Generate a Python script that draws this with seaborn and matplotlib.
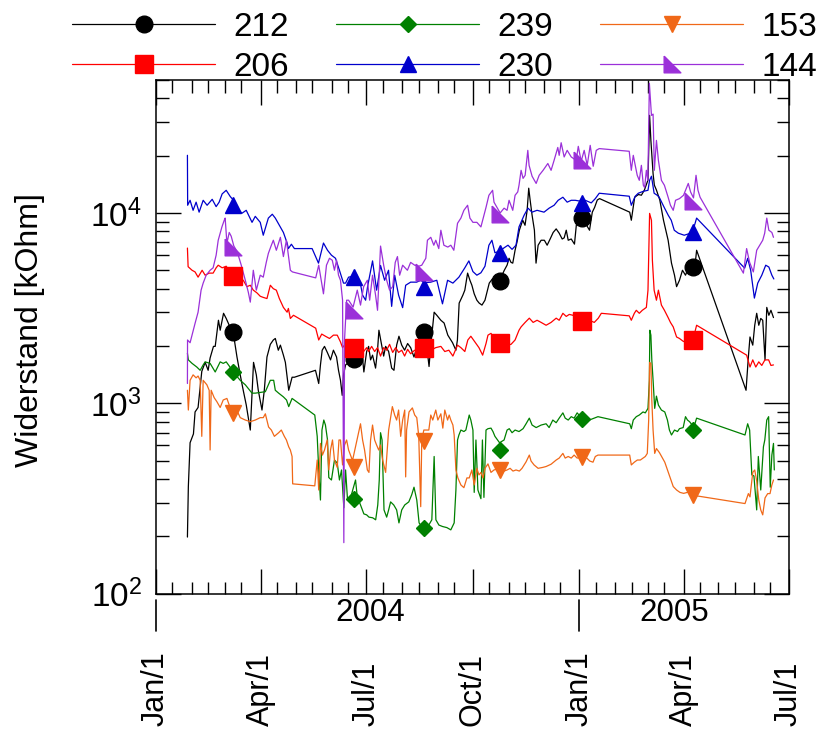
import numpy as np
import pandas as pd
import matplotlib
matplotlib.use("Agg")
import matplotlib.pyplot as plt
import matplotlib.dates as mdates
import matplotlib.transforms as mtransforms
from matplotlib.lines import Line2D
from matplotlib.ticker import LogLocator, NullFormatter
import seaborn as sns

# Resistance readings (kOhm) per sensor: (days since 2004-01-01, value)
S212 = [(27.4, 198), (28.2, 365), (29.7, 620), (32.6, 690), (34.0, 900), (36.6, 950), (39.8, 1470), (42.7, 1640),
        (45.3, 1490), (47.0, 1730), (49.9, 1990), (51.4, 1990), (54.2, 2730), (55.7, 2420), (58.6, 2970), (60.9, 2790),
        (63.5, 2570), (66.5, 2450), (70.2, 1750), (73.0, 1410), (75.6, 1170), (78.2, 980), (81.7, 723), (84.5, 1640),
        (86.9, 1410), (88.6, 1170), (91.8, 921), (93.8, 1170), (96.1, 1750), (99.0, 2040), (101.6, 2150), (103.3, 2190),
        (105.9, 1900), (107.7, 2020), (110.3, 1790), (112.0, 1640), (114.9, 1170), (117.8, 1370), (119.8, 1370),
        (138.0, 1490), (140.8, 1270), (142.3, 1590), (143.8, 1900), (145.8, 1990), (148.4, 1840), (151.0, 1690),
        (153.5, 1900), (156.2, 1750), (157.9, 1490), (159.6, 1320), (161.1, 1100), (162.2, 1410), (164.0, 1590),
        (166.6, 1640), (170.0, 1700), (173.5, 1900), (175.3, 1790), (177.8, 1960), (179.8, 1460), (182.2, 1870),
        (183.9, 1990), (185.6, 1690), (187.3, 1790), (189.9, 1530), (191.6, 1900), (192.8, 2420), (195.2, 2020),
        (196.9, 1770), (198.6, 1990), (201.2, 1870), (203.8, 1530), (205.8, 1490), (208.1, 2020), (210.1, 2250),
        (212.5, 2020), (215.0, 1900), (217.6, 2060), (220.2, 1960), (223.1, 1750), (225.5, 1960), (228.1, 2250),
        (231.5, 2400), (234.1, 1990), (236.1, 1560), (237.6, 2020), (240.5, 3010), (242.8, 2900), (246.3, 2730),
        (249.1, 2640), (252.3, 2280), (254.9, 2150), (256.4, 2080), (259.3, 1900), (260.6, 2150), (262.1, 3360),
        (265.3, 3700), (267.0, 3930), (269.4, 4830), (271.4, 4430), (273.1, 4170), (275.1, 3760), (277.4, 3480),
        (279.4, 3360), (281.8, 3280), (284.4, 3480), (286.1, 3830), (288.1, 4280), (291.0, 4520), (293.0, 4170),
        (297.0, 4400), (301.1, 5000), (303.5, 5320), (305.2, 5780), (306.9, 5500), (308.4, 5450), (310.4, 6370),
        (312.1, 7050), (314.1, 8120), (317.0, 9160), (319.0, 8620), (320.8, 10300), (322.2, 13500), (323.4, 11700),
        (325.1, 9730), (327.1, 8120), (328.5, 5450), (330.3, 6770), (332.9, 7190), (335.7, 7190), (338.1, 6770),
        (340.7, 7300), (343.3, 7900), (345.9, 8250), (348.5, 7830), (351.1, 7300), (352.8, 7400), (354.6, 8120),
        (356.3, 7190), (358.9, 7300), (361.7, 6860), (363.3, 8620), (365.0, 9400), (368.0, 9500), (374.7, 8120),
        (377.1, 10100), (379.1, 10700), (381.4, 11700), (383.4, 11900), (409.4, 10100), (410.8, 9160),
        (413.7, 12100), (416.9, 12500), (419.5, 12400), (422.1, 13200), (425.2, 14900), (426.6, 32600),
        (427.7, 24100), (429.6, 16100), (430.7, 14000), (432.5, 13200), (435.4, 11700), (438.6, 9160),
        (442.6, 7190), (445.5, 5450), (448.1, 4710), (449.9, 4100), (452.4, 4430), (455.0, 5000), (457.6, 4710),
        (460.2, 5150), (464.0, 5250), (465.4, 5000), (467.2, 6370), (509.9, 1170), (511.9, 1750), (513.3, 2230),
        (515.7, 2020), (517.4, 2570), (519.1, 2970), (520.9, 2570), (522.6, 2790), (524.3, 2730), (526.3, 1690),
        (527.8, 3190), (529.6, 2900), (531.4, 3080), (533.6, 2820)]

S206 = [(27.4, 6540), (28.0, 5220), (31.4, 5000), (34.0, 4900), (36.6, 4600), (40.1, 5000), (42.7, 4710), (46.2, 4830),
        (49.6, 4830), (52.2, 5150), (54.0, 5315), (57.4, 5150), (60.9, 5250), (64.0, 4900), (67.0, 4650), (73.0, 4520),
        (75.6, 4430), (78.8, 4100), (81.7, 4170), (84.3, 3930), (87.5, 3800), (90.3, 3650), (92.9, 3600), (96.1, 3550),
        (99.0, 4170), (101.6, 4000), (104.2, 3930), (106.8, 3550), (110.3, 3190), (113.5, 3010), (114.6, 3150),
        (116.3, 2790), (119.0, 2900), (138.2, 2480), (140.8, 2150), (143.4, 2310), (146.6, 2250), (150.1, 2190),
        (153.5, 2280), (156.8, 2280), (159.6, 2100), (161.4, 1960), (164.0, 2060), (166.6, 1900), (171.0, 1950),
        (173.5, 2020), (176.9, 1900), (179.6, 1870), (182.2, 1960), (183.9, 1870), (186.5, 1990), (189.1, 1870),
        (191.6, 1960), (194.2, 1770), (196.9, 1960), (199.5, 1900), (202.0, 2040), (204.7, 1850), (207.3, 1960),
        (209.8, 1850), (212.5, 1900), (215.0, 1770), (217.6, 1920), (220.2, 1820), (223.7, 1900), (227.2, 1870),
        (232.0, 1940), (237.6, 1900), (241.9, 1960), (246.3, 1990), (249.7, 1870), (253.2, 1900), (256.7, 1770),
        (260.7, 2020), (263.6, 1960), (267.0, 1870), (269.6, 2150), (272.2, 2250), (275.7, 2100), (279.2, 1960),
        (282.4, 1790), (285.3, 2060), (287.0, 2280), (289.6, 2330), (292.2, 2190), (297.0, 2070), (303.5, 2020),
        (306.9, 2040), (310.4, 2150), (313.8, 2420), (315.6, 2520), (319.1, 2660), (322.7, 2800), (326.0, 2660),
        (329.4, 2730), (332.9, 2660), (337.2, 2570), (341.5, 2660), (345.9, 2800), (348.5, 2730), (351.7, 2970),
        (354.6, 2860), (357.2, 2930), (360.4, 2900), (363.3, 2800), (368.0, 2700), (374.5, 2730), (378.8, 2660),
        (382.3, 2800), (384.9, 2970), (409.0, 2880), (410.8, 2730), (413.4, 2970), (415.1, 3080), (417.7, 2970),
        (420.3, 3080), (423.8, 3190), (425.2, 3930), (426.6, 9950), (428.2, 9155), (429.0, 5645), (430.5, 3930),
        (432.5, 3480), (434.2, 3930), (436.8, 3280), (439.4, 3080), (442.6, 2820), (444.6, 2660), (447.0, 2520),
        (449.9, 2230), (452.4, 2190), (455.9, 2110), (459.3, 2150), (464.0, 2150), (467.2, 2570), (510.4, 1790),
        (513.3, 1550), (515.7, 1690), (518.3, 1550), (520.9, 1650), (523.5, 1580), (526.2, 1690), (529.4, 1690),
        (531.4, 1580), (533.6, 1590)]

S239 = [(27.4, 1830), (28.2, 1690), (31.4, 1620), (35.5, 1550), (38.4, 1490), (41.0, 1590), (42.7, 1650), (47.0, 1620),
        (51.4, 1460), (54.0, 1570), (55.7, 1650), (58.3, 1620), (60.9, 1650), (63.5, 1570), (67.0, 1460), (73.0, 1320),
        (77.4, 1250), (83.2, 1130), (86.0, 1130), (90.3, 1140), (94.7, 1150), (97.3, 1250), (99.0, 1320), (101.9, 1320),
        (103.3, 1170), (106.2, 1130), (110.3, 1080), (113.0, 1040), (114.9, 960), (117.8, 1060), (137.4, 867),
        (139.5, 670), (140.8, 446), (142.3, 310), (143.6, 723), (145.2, 816), (146.6, 768), (148.4, 641), (149.5, 407),
        (151.8, 395), (154.4, 503), (156.8, 485), (158.7, 395), (160.5, 446), (162.5, 282), (164.0, 446), (165.7, 310),
        (169.0, 330), (172.6, 395), (174.1, 322), (176.9, 292), (179.8, 262), (182.2, 259), (184.2, 252), (187.4, 250),
        (190.0, 244), (191.8, 292), (193.1, 395), (194.2, 700), (195.5, 641), (197.2, 275), (199.5, 252), (201.2, 275),
        (202.9, 303), (205.6, 292), (208.1, 275), (210.1, 235), (212.5, 275), (215.1, 292), (218.6, 303), (221.1, 330),
        (223.1, 362), (225.5, 310), (227.5, 235), (229.8, 225), (232.0, 222), (235.9, 229), (238.5, 244), (240.5, 525),
        (242.0, 244), (244.6, 229), (247.7, 225), (251.5, 222), (254.9, 216), (257.8, 235), (259.3, 350), (260.7, 641),
        (261.9, 681), (263.6, 723), (266.2, 710), (267.9, 723), (270.8, 867), (272.2, 816), (274.0, 723), (275.1, 340),
        (276.6, 641), (278.3, 350), (280.9, 315), (282.2, 641), (283.5, 320), (285.3, 723), (287.0, 735), (289.6, 740),
        (291.3, 710), (293.0, 670), (297.0, 620), (300.9, 641), (303.5, 723), (305.4, 735), (307.8, 700), (310.4, 723),
        (313.8, 710), (317.3, 735), (319.9, 780), (322.7, 835), (325.1, 768), (328.6, 745), (332.9, 768), (337.2, 780),
        (339.8, 745), (343.0, 816), (345.9, 790), (348.5, 835), (351.7, 890), (353.7, 835), (356.3, 816), (358.9, 850),
        (361.4, 835), (364.0, 890), (368.0, 835), (374.5, 816), (378.8, 835), (382.0, 850), (409.4, 780), (410.8, 735),
        (412.5, 816), (415.1, 850), (417.7, 867), (420.9, 900), (422.9, 890), (425.2, 940), (426.4, 1320),
        (426.8, 2420), (427.7, 2280), (428.5, 1690), (429.6, 1320), (431.0, 940), (432.5, 1090), (434.2, 978),
        (436.8, 921), (439.7, 900), (442.0, 816), (443.7, 723), (445.5, 681), (448.1, 723), (450.7, 710), (452.4, 735),
        (455.6, 745), (457.6, 850), (459.3, 816), (461.1, 800), (464.0, 760), (465.4, 768), (467.2, 835), (509.0, 681),
        (511.3, 780), (513.0, 723), (514.9, 420), (516.7, 415), (519.1, 275), (520.5, 525), (522.6, 350), (524.9, 590),
        (526.1, 641), (527.8, 816), (529.4, 850), (530.8, 362), (532.2, 534), (533.6, 615), (534.3, 446)]

S230 = [(27.4, 20100), (27.6, 10980), (29.7, 11660), (32.3, 10330), (34.9, 11400), (37.5, 10100), (41.0, 11660),
        (44.4, 10980), (48.8, 11800), (52.2, 10800), (54.8, 11400), (57.4, 12600), (60.9, 13160), (64.4, 12200),
        (67.0, 11700), (70.4, 10500), (74.5, 9970), (78.2, 10330), (83.2, 8930), (86.0, 9600), (90.3, 8930),
        (92.9, 7640), (95.5, 8620), (97.3, 9400), (100.7, 9850), (103.3, 9400), (106.8, 8620), (110.3, 7900),
        (113.5, 6950), (114.6, 6500), (117.2, 6850), (119.8, 6500), (135.1, 6500), (140.6, 5450), (144.9, 6950),
        (148.4, 6370), (151.8, 6000), (155.3, 5780), (158.7, 5000), (162.2, 4280), (164.0, 4280), (166.6, 4600),
        (171.0, 4650), (173.7, 4710), (176.9, 4220), (178.7, 3700), (181.3, 3480), (183.0, 4100), (187.3, 5600),
        (190.8, 3930), (194.2, 5300), (197.7, 4430), (201.1, 5000), (203.8, 3230), (206.4, 4710), (209.8, 3700),
        (213.3, 3180), (215.9, 4170), (220.2, 4330), (225.4, 4330), (228.9, 4430), (232.0, 4300), (237.6, 4330),
        (242.8, 4430), (247.7, 3330), (252.1, 4430), (256.7, 4280), (261.9, 4600), (267.0, 5150), (270.5, 5600),
        (274.0, 4920), (277.4, 4710), (280.9, 4850), (284.4, 5250), (287.8, 6770), (290.4, 7190), (293.0, 6180),
        (297.0, 6300), (300.9, 6560), (304.3, 6770), (307.8, 6440), (311.2, 6770), (313.8, 8450), (318.2, 9730),
        (321.6, 10600), (325.0, 10100), (329.4, 10330), (335.4, 10100), (339.8, 10600), (344.1, 10980),
        (347.6, 11660), (351.7, 12100), (355.4, 11400), (358.9, 11660), (362.4, 11660), (368.0, 11500),
        (371.0, 11660), (376.2, 11300), (379.7, 11900), (383.1, 12700), (409.0, 12250), (410.8, 10980),
        (414.2, 12250), (416.8, 12700), (421.2, 13000), (425.2, 13160), (426.6, 14850), (428.2, 15600),
        (430.5, 12700), (433.2, 12390), (434.9, 12100), (439.2, 10700), (442.7, 9730), (445.3, 9155), (447.9, 8115),
        (451.4, 7830), (456.5, 7640), (464.0, 7900), (465.4, 8620), (467.2, 9400), (508.7, 5130), (511.3, 5780),
        (513.9, 5000), (517.1, 3570), (520.0, 4280), (523.5, 4710), (526.9, 5315), (529.6, 5200), (532.2, 4710),
        (533.9, 4500)]

S153 = [(27.4, 1170), (28.2, 921), (29.7, 1320), (32.3, 1410), (34.9, 1360), (36.6, 1390), (38.4, 1320), (39.8, 670),
        (41.0, 1320), (44.2, 1250), (46.2, 1170), (47.0, 568), (47.9, 1170), (50.5, 1070), (52.8, 1020), (55.7, 950),
        (58.3, 1040), (61.5, 1060), (63.5, 978), (67.0, 900), (70.4, 910), (73.0, 840), (77.4, 816), (81.7, 800),
        (86.0, 816), (90.3, 840), (92.9, 840), (94.7, 880), (97.5, 750), (99.9, 723), (102.5, 670), (106.2, 700),
        (108.5, 723), (111.1, 670), (112.9, 641), (114.9, 590), (116.3, 568), (117.8, 525), (118.3, 377),
        (137.4, 368), (139.5, 503), (140.8, 350), (142.3, 615), (144.0, 534), (145.8, 568), (148.1, 641), (149.5, 446),
        (151.0, 568), (152.7, 641), (154.4, 503), (156.8, 460), (158.3, 641), (159.6, 641), (161.4, 474), (163.1, 603),
        (164.9, 641), (166.6, 568), (170.0, 500), (172.0, 568), (173.8, 641), (176.9, 780), (178.7, 641), (180.4, 568),
        (182.8, 446), (184.2, 433), (185.6, 641), (187.3, 768), (189.1, 641), (190.8, 603), (192.6, 568), (194.2, 603),
        (196.0, 503), (198.6, 433), (201.2, 723), (204.4, 960), (206.4, 867), (208.1, 816), (209.8, 921), (211.6, 670),
        (213.3, 816), (215.1, 921), (215.9, 410), (216.7, 723), (218.8, 900), (221.7, 945), (223.7, 867), (225.5, 840),
        (227.2, 670), (228.9, 286), (229.8, 641), (231.6, 723), (235.9, 723), (237.6, 867), (239.3, 816), (241.9, 921),
        (243.7, 816), (246.3, 880), (248.0, 740), (249.7, 921), (252.1, 816), (253.5, 867), (254.9, 816), (256.7, 768),
        (257.8, 681), (259.3, 446), (261.0, 405), (263.6, 372), (266.2, 360), (268.8, 405), (270.8, 405), (273.1, 446),
        (275.1, 372), (277.4, 455), (279.2, 420), (280.9, 433), (282.7, 405), (284.4, 455), (287.0, 480), (289.6, 433),
        (292.2, 446), (297.0, 455), (300.9, 440), (303.5, 446), (306.1, 455), (308.6, 440), (311.2, 446), (314.1, 440),
        (316.4, 455), (318.2, 474), (319.9, 492), (322.7, 534), (324.2, 497), (326.8, 474), (330.3, 455), (334.3, 460),
        (337.2, 465), (341.5, 478), (345.9, 503), (348.5, 515), (351.7, 545), (353.7, 515), (356.3, 525), (358.9, 515),
        (361.4, 534), (364.0, 515), (368.0, 520), (372.3, 515), (374.9, 497), (377.7, 490), (379.7, 525), (382.0, 534),
        (409.4, 534), (410.8, 474), (413.4, 490), (416.0, 503), (418.6, 503), (420.9, 515), (422.9, 525), (424.6, 545),
        (425.8, 816), (426.6, 1640), (427.7, 1620), (428.5, 1040), (429.6, 723), (431.0, 545), (432.5, 578),
        (435.1, 550), (437.7, 515), (439.7, 490), (442.0, 446), (444.0, 410), (447.0, 365), (449.9, 350), (452.8, 340),
        (456.0, 336), (459.3, 340), (464.0, 336), (467.2, 326), (509.0, 297), (511.9, 335), (513.3, 322), (515.7, 433),
        (517.4, 446), (519.1, 390), (520.9, 310), (522.6, 275), (524.3, 259), (526.3, 318), (528.6, 335), (530.6, 335),
        (532.2, 372), (533.6, 395)]

S144 = [(27.4, 1270), (27.5, 2150), (29.7, 2080), (34.0, 2630), (36.6, 3010), (39.2, 3930), (41.0, 4280), (43.6, 4710),
        (47.0, 5000), (49.6, 5150), (52.2, 6000), (54.0, 7190), (57.2, 8450), (59.2, 9155), (60.0, 9400), (61.5, 6930),
        (63.5, 7900), (65.2, 7550), (67.5, 6700), (70.4, 6260), (73.9, 5315), (77.4, 4430), (80.0, 3830), (81.7, 3400),
        (84.3, 5000), (86.9, 3930), (90.3, 4710), (92.9, 4600), (95.5, 5500), (97.3, 6130), (99.9, 6770), (101.6, 7190),
        (104.2, 6370), (107.7, 7450), (110.3, 5900), (112.9, 7190), (116.3, 5000), (118.1, 4900), (138.2, 4560),
        (140.8, 5315), (143.4, 4280), (144.9, 3760), (147.5, 5315), (150.1, 5780), (152.5, 5645), (154.4, 5000),
        (156.2, 5645), (157.9, 4710), (159.6, 4430), (161.4, 3480), (162.5, 185), (163.1, 2150), (164.9, 3480),
        (166.6, 3480), (170.5, 3200), (174.1, 3930), (176.9, 3280), (179.6, 4100), (182.8, 4430), (184.8, 3480),
        (187.3, 4710), (189.9, 3700), (191.6, 3080), (194.2, 6700), (196.9, 5315), (199.5, 4430), (202.0, 3930),
        (204.7, 4100), (206.9, 5500), (208.8, 5900), (210.7, 4710), (213.3, 5315), (217.4, 5000), (220.2, 5500),
        (223.7, 5315), (227.2, 5250), (229.8, 5315), (233.3, 5780), (234.7, 7190), (237.6, 7450), (240.2, 6770),
        (241.9, 7190), (244.5, 6500), (246.3, 8115), (248.9, 6770), (252.3, 6620), (254.9, 6770), (257.5, 6370),
        (260.7, 8830), (263.6, 9400), (266.2, 10330), (269.4, 10980), (271.4, 9400), (274.0, 8930), (277.4, 8930),
        (280.9, 8450), (283.5, 9730), (285.3, 10700), (287.8, 12390), (291.0, 13160), (292.2, 11400), (294.8, 10700),
        (297.5, 10000), (300.9, 10600), (303.5, 10330), (305.2, 11660), (308.4, 10330), (310.4, 12390),
        (312.7, 12900), (313.8, 13980), (315.6, 16760), (317.3, 15200), (319.1, 15780), (321.4, 21340),
        (322.5, 17800), (325.1, 15600), (328.6, 14300), (331.2, 15780), (334.6, 16760), (338.7, 18200),
        (341.5, 16760), (344.1, 18910), (347.3, 22100), (348.5, 20090), (350.2, 23400), (352.8, 19700),
        (355.4, 21340), (358.9, 19700), (363.2, 18910), (365.0, 22400), (367.5, 18700), (370.1, 21340),
        (372.7, 17800), (375.3, 22670), (377.9, 17600), (380.5, 21340), (383.1, 21800), (409.0, 21100),
        (410.8, 16760), (412.5, 20090), (414.2, 17800), (415.9, 15780), (417.7, 14850), (419.5, 17800),
        (421.2, 13980), (422.3, 13600), (423.8, 16760), (425.1, 14850), (426.4, 48000), (428.2, 32570),
        (429.6, 33100), (430.7, 16760), (432.5, 24080), (434.2, 18910), (436.8, 14850), (439.4, 13980),
        (442.6, 12100), (444.6, 10980), (447.0, 10330), (449.0, 11660), (452.4, 11900), (455.9, 12390),
        (460.0, 14300), (462.0, 12900), (464.5, 12000), (466.7, 15780), (468.4, 13160), (470.2, 12100),
        (507.6, 4830), (510.4, 6500), (513.0, 5500), (516.2, 4900), (519.1, 6370), (521.7, 6770), (524.3, 7190),
        (526.0, 7830), (527.8, 9400), (529.6, 8115), (532.2, 7900), (533.6, 7450)]

# Symbol positions along each curve (days since 2004-01-01) and their values (kOhm)
MARKER_DAYS = [67, 171, 232, 297, 368, 464]
M212 = [2370, 1700, 2380, 4400, 9450, 5200]
M206 = [4650, 1960, 1940, 2070, 2700, 2150]
M239 = [1460, 315, 222, 570, 830, 720]
M230 = [11000, 4600, 4100, 6150, 11300, 7950]
M153 = [890, 465, 630, 446, 520, 330]
M144 = [6600, 3100, 4900, 9850, 19000, 11500]

SENSORS = ["212", "206", "239", "230", "153", "144"]
MONTH_TICKS = ["2004-01-01", "2004-04-01", "2004-07-01", "2004-10-01", "2005-01-01", "2005-04-01", "2005-07-01"]
MONTH_LABELS = ["Jan/1", "Apr/1", "Jul/1", "Oct/1", "Jan/1", "Apr/1", "Jul/1"]
YEAR_STARTS = ["2004-01-01", "2005-01-01"]
YEAR_LABELS = ["2004", "2005"]
YEAR_LABEL_AT = ["2004-07-04", "2005-03-24"]

START = pd.Timestamp("2004-01-01")

# right-angled triangle symbol used for sensor 144
flag_tri = [(-1, 1), (-1, -1), (1, -1), (-1, 1)]

styles = {
    "212": dict(color="#000000", marker="o", ms=12),
    "206": dict(color="#ff0000", marker="s", ms=12.5),
    "239": dict(color="#008000", marker="D", ms=8.2),
    "230": dict(color="#0000cc", marker="^", ms=12),
    "153": dict(color="#f06818", marker="v", ms=11.5),
    "144": dict(color="#9b30d9", marker=flag_tri, ms=12),
}
curves = {"212": S212, "206": S206, "239": S239, "230": S230, "153": S153, "144": S144}
marks = {"212": M212, "206": M206, "239": M239, "230": M230, "153": M153, "144": M144}

sns.set_style("ticks")
plt.rcParams["font.family"] = ["Liberation Sans", "DejaVu Sans"]
plt.rcParams["mathtext.default"] = "regular"
plt.rcParams["text.color"] = "black"

W, H = 826, 731
fig = plt.figure(figsize=(W / 100, H / 100), dpi=100)
ax = fig.add_axes([155.7 / W, 1 - 593.5 / H, (789 - 155.7) / W, (593.5 - 80) / H])
ax.set_yscale("log")

def to_dates(days):
    return START + pd.to_timedelta(np.asarray(days, dtype=float), unit="D")

draw_order = ["212", "206", "239", "230", "153", "144"]
for name in draw_order:
    df = pd.DataFrame(curves[name], columns=["day", "kohm"])
    df["date"] = to_dates(df["day"])
    sns.lineplot(data=df, x="date", y="kohm", color=styles[name]["color"], lw=0.9,
                 sort=False, estimator=None, legend=False, ax=ax)

mdates_marks = to_dates(MARKER_DAYS)
for name in draw_order:
    st = styles[name]
    ax.plot(mdates_marks, marks[name], ls="none", marker=st["marker"], ms=st["ms"],
            color=st["color"], mec=st["color"], mfc=st["color"], zorder=5)

ax.set_xlim(pd.Timestamp("2004-01-01"), pd.Timestamp("2005-07-01"))
ax.set_ylim(100, 50000)
ax.set_xlabel("")
ax.set_ylabel("")

ax.xaxis.set_major_locator(mdates.MonthLocator(bymonth=[1, 4, 7, 10]))
ax.xaxis.set_minor_locator(mdates.DayLocator(bymonthday=[1, 15]))
ax.tick_params(axis="x", which="both", labelbottom=False)

ax.set_yticks([100, 1000, 10000])
ax.set_yticklabels([r"$10^{2}$", r"$10^{3}$", r"$10^{4}$"])
ax.yaxis.set_minor_locator(LogLocator(base=10, subs=range(2, 10)))
ax.yaxis.set_minor_formatter(NullFormatter())

ax.tick_params(which="both", direction="in", top=True, right=True, width=1.0, color="black")
ax.tick_params(which="major", length=18)
ax.tick_params(which="minor", length=9)
ax.tick_params(axis="y", which="major", labelsize=24, pad=10, labelcolor="black")
for sp in ax.spines.values():
    sp.set_color("black")
    sp.set_linewidth(1.1)

# month labels and year row beneath the axis
trans = mtransforms.blended_transform_factory(ax.transData, fig.transFigure)
for d, lab in zip(MONTH_TICKS, MONTH_LABELS):
    ax.text(mdates.date2num(pd.Timestamp(d)), 1 - 726 / H, lab, transform=trans, rotation=90,
            ha="center", va="bottom", fontsize=22, color="black")
for d in YEAR_STARTS:
    x = mdates.date2num(pd.Timestamp(d))
    fig.add_artist(Line2D([x, x], [1 - 600 / H, 1 - 631 / H], transform=trans, color="black", lw=1.2))
for d, lab in zip(YEAR_LABEL_AT, YEAR_LABELS):
    ax.text(mdates.date2num(pd.Timestamp(d)), 1 - 613 / H, lab, transform=trans,
            ha="center", va="center", fontsize=22.5, color="black")

fig.text(30 / W, 1 - 330 / H, "Widerstand [kOhm]", rotation=90, ha="center", va="center",
         fontsize=23, color="black")

handles = [Line2D([], [], color=styles[n]["color"], lw=0.9, marker=styles[n]["marker"],
                  ms=styles[n]["ms"], mec=styles[n]["color"], mfc=styles[n]["color"]) for n in SENSORS]
leg = fig.legend(handles, SENSORS, ncol=3, loc="upper left", bbox_to_anchor=(72 / W, 1 - 12 / H),
                 frameon=False, fontsize=24, handlelength=4.3, handletextpad=0.55, columnspacing=1.4,
                 labelspacing=0.27, borderpad=0, borderaxespad=0, numpoints=1)
for t in leg.get_texts():
    t.set_color("black")

fig.savefig("out.png", dpi=100)
